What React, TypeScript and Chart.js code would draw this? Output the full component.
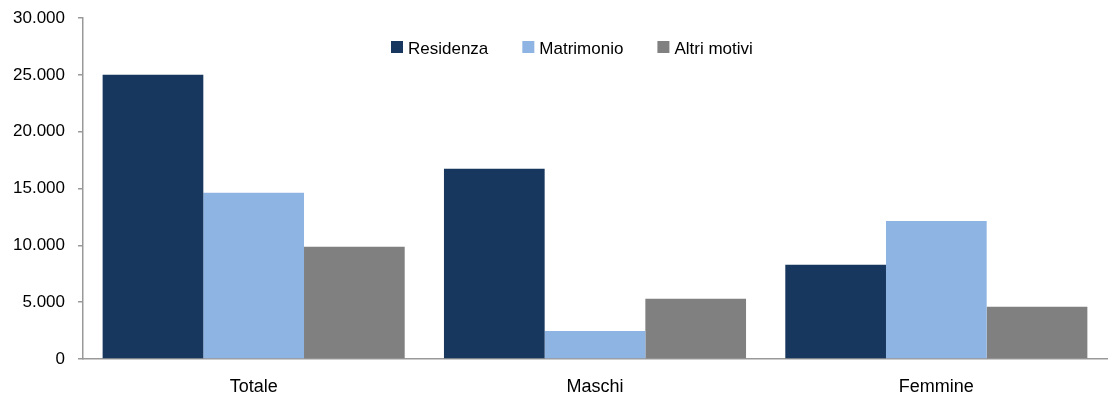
import React, { useEffect, useRef } from "react";
import { Chart, registerables } from "chart.js";

Chart.register(...registerables);

const categories = ["Totale", "Maschi", "Femmine"];
const seriesNames = ["Residenza", "Matrimonio", "Altri motivi"];
const residenza = [25000, 16740, 8300];
const matrimonio = [14620, 2470, 12150];
const altriMotivi = [9870, 5300, 4590];
const seriesColors = ["#17375E", "#8EB4E3", "#808080"];
const yTicks = [0, 5000, 10000, 15000, 20000, 25000, 30000];

const FONT = '"Liberation Sans", Arial, sans-serif';
const AXIS_COLOR = "#999999";

const fmt = (v: number) => String(Math.round(v)).replace(/\B(?=(\d{3})+(?!\d))/g, ".");

const legendPlugin = {
  id: "customLegend",
  afterDraw(chart: any) {
    const ctx = chart.ctx;
    ctx.save();
    ctx.font = `17px ${FONT}`;
    ctx.textBaseline = "alphabetic";
    ctx.textAlign = "left";
    let x = 391;
    const boxTop = 41;
    chart.data.datasets.forEach((ds: any) => {
      ctx.fillStyle = ds.backgroundColor;
      ctx.fillRect(x, boxTop, 12, 12);
      ctx.fillStyle = "#000000";
      ctx.fillText(ds.label, x + 17, 53.5);
      x += 17 + ctx.measureText(ds.label).width + 34;
    });
    ctx.restore();
  },
};

export default function App() {
  const ref = useRef<HTMLCanvasElement>(null);
  useEffect(() => {
    if (!ref.current) return;
    const data = [residenza, matrimonio, altriMotivi];
    const chart = new Chart(ref.current, {
      type: "bar",
      data: {
        labels: categories,
        datasets: seriesNames.map((name, i) => ({
          label: name,
          data: data[i],
          backgroundColor: seriesColors[i],
          borderWidth: 0,
          categoryPercentage: 0.885,
          barPercentage: 1,
        })),
      },
      options: {
        responsive: false,
        animation: false,
        maintainAspectRatio: false,
        layout: { padding: { top: 18, right: 2, bottom: 7, left: 0 } },
        plugins: {
          legend: { display: false },
          tooltip: { enabled: false },
        },
        scales: {
          x: {
            grid: { display: false, drawTicks: false },
            border: { display: true, color: AXIS_COLOR, width: 1.5 },
            ticks: {
              color: "#000000",
              font: { family: FONT, size: 18 },
              padding: 17,
            },
            afterFit: (s: any) => {
              s.height = 34;
              s.paddingLeft = 0;
              s.paddingRight = 0;
            },
          },
          y: {
            min: 0,
            max: 30000,
            afterBuildTicks: (s: any) => {
              s.ticks = yTicks.map((v) => ({ value: v }));
            },
            grid: {
              display: true,
              drawOnChartArea: false,
              drawTicks: true,
              tickLength: 5,
              color: AXIS_COLOR,
              lineWidth: 1.5,
            },
            border: { display: true, color: AXIS_COLOR, width: 1.5 },
            ticks: {
              color: "#000000",
              font: { family: FONT, size: 17 },
              padding: 13,
              callback: (v: any) => fmt(Number(v)),
            },
            afterFit: (s: any) => {
              s.width = 83;
              s.paddingTop = 0;
              s.paddingBottom = 0;
            },
          },
        },
      },
      plugins: [legendPlugin],
    });
    return () => chart.destroy();
  }, []);
  return (
    <div style={{ position: "absolute", left: 0, top: 0, width: 1109, height: 400, background: "#ffffff" }}>
      <canvas ref={ref} width={1109} height={400} style={{ width: 1109, height: 400, display: "block" }} />
    </div>
  );
}
